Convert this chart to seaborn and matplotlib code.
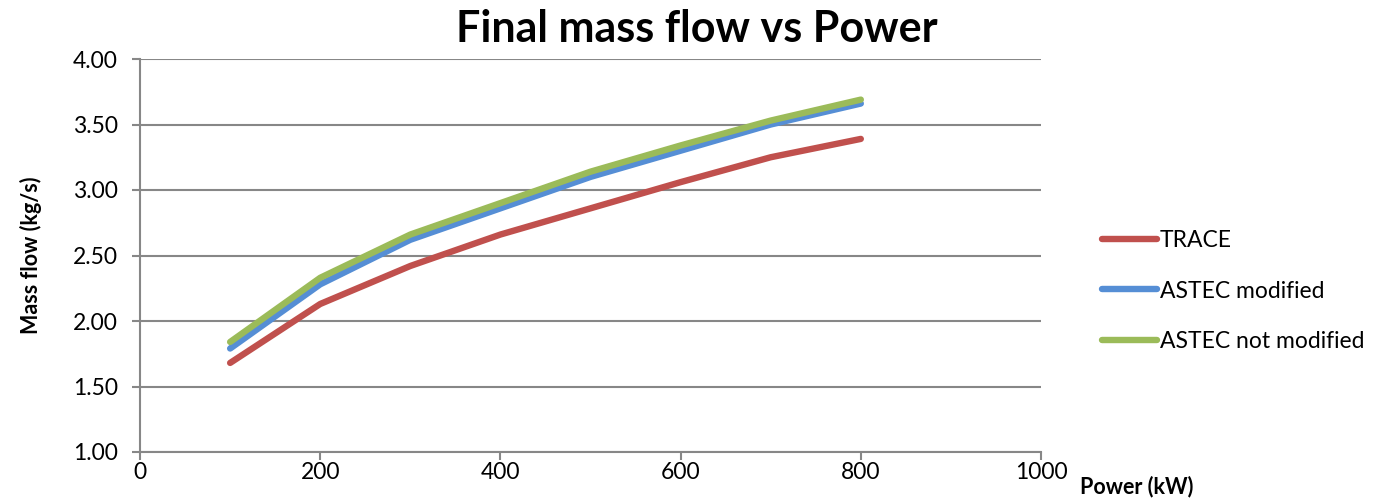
import matplotlib
matplotlib.use("Agg")
import matplotlib.pyplot as plt
import pandas as pd
import seaborn as sns

power_kw = [100, 200, 300, 400, 500, 600, 700, 800]
trace = [1.68, 2.13, 2.42, 2.66, 2.86, 3.06, 3.25, 3.39]
astec_modified = [1.79, 2.28, 2.62, 2.86, 3.10, 3.30, 3.50, 3.66]
astec_not_modified = [1.84, 2.33, 2.66, 2.90, 3.14, 3.34, 3.53, 3.69]
series_names = ["TRACE", "ASTEC modified", "ASTEC not modified"]
colors = ["#C0504D", "#558ED5", "#9BBB59"]
y_ticks = [1.0, 1.5, 2.0, 2.5, 3.0, 3.5, 4.0]
x_ticks = [0, 200, 400, 600, 800, 1000]

df = pd.DataFrame({
    "power": power_kw * 3,
    "flow": trace + astec_modified + astec_not_modified,
    "series": [s for s in series_names for _ in power_kw],
})

sns.set_style("white")
plt.rcParams["font.family"] = ["Lato", "DejaVu Sans"]

fig = plt.figure(figsize=(13.77, 5.0), dpi=100)
ax = fig.add_axes([0.1017, 0.096, 0.6543, 0.786])

sns.lineplot(data=df, x="power", y="flow", hue="series", hue_order=series_names,
             palette=colors, linewidth=4.6, ax=ax, legend=False,
             solid_capstyle="round", zorder=3)

grid_c = "#878787"
ax.set_xlim(0, 1000)
ax.set_ylim(1.0, 4.0)
ax.set_yticks(y_ticks)
ax.set_yticklabels([f"{v:.2f}" for v in y_ticks])
ax.set_xticks(x_ticks)
ax.set_xticklabels([str(v) for v in x_ticks])
ax.yaxis.grid(True, color=grid_c, linewidth=1.5)
ax.xaxis.grid(False)
for side in ["top", "right"]:
    ax.spines[side].set_visible(False)
for side in ["left", "bottom"]:
    ax.spines[side].set_color(grid_c)
    ax.spines[side].set_linewidth(1.5)
ax.tick_params(axis="both", which="major", labelsize=16.5, color=grid_c,
               labelcolor="black", length=6, width=1.5, direction="out",
               left=True, bottom=True)
ax.tick_params(axis="y", pad=10)
ax.tick_params(axis="x", pad=1)

ax.set_xlabel("")
ax.set_ylabel("Mass flow (kg/s)", fontsize=15.5, fontweight="bold", labelpad=22,
              color="black")
fig.text(0.784, 0.026, "Power (kW)", fontsize=15.5, fontweight="bold", ha="left",
         va="center", color="black")
fig.text(0.506, 0.942, "Final mass flow vs Power", fontsize=31, fontweight="bold",
         ha="center", va="center", color="black")

handles = [plt.Line2D([0], [0], color=c, linewidth=4.6, solid_capstyle="round") for c in colors]
fig.legend(handles, series_names, loc="center left", bbox_to_anchor=(0.785, 0.418),
           frameon=False, fontsize=16.5, handlelength=2.4, handletextpad=0.15,
           labelspacing=1.3, labelcolor="black")

fig.savefig("out.png", dpi=100)
